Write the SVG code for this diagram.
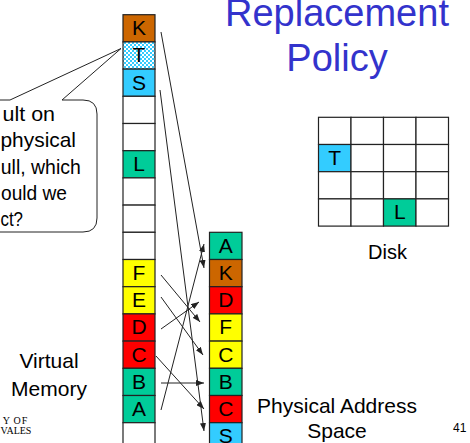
<svg xmlns="http://www.w3.org/2000/svg" width="470" height="443" viewBox="0 0 470 443">
<style>
text{font-family:"Liberation Sans",Arial,sans-serif;fill:#000}
.c{stroke:#222;stroke-width:1.2}
.lab{font-size:21px;text-anchor:middle}
.w{fill:#fff}.k{fill:#CC6600}.b{fill:#33CCFF}.g{fill:#00CC99}.y{fill:#FFFF00}.r{fill:#FF0000}
.ln{stroke:#222;stroke-width:1;fill:none;marker-end:url(#ah)}
.grid{fill:#fff;stroke:#222;stroke-width:1.2}
.bt{font-size:21px}
</style>
<defs>
<pattern id="dots" width="4" height="4" patternUnits="userSpaceOnUse">
<rect width="4" height="4" fill="#33CCFF"/>
<rect width="2" height="2" fill="#ffffff"/>
<rect x="2" y="2" width="2" height="2" fill="#ffffff"/>
</pattern>
<marker id="ah" markerWidth="8" markerHeight="6" refX="8" refY="3" orient="auto" markerUnits="userSpaceOnUse">
<path d="M0,0 L8,3 L0,6 z" fill="#222"/>
</marker>
</defs>
<rect width="470" height="443" fill="#fff"/>

<g id="title">
<text x="337" y="25.5" style="font-size:38px;text-anchor:middle;fill:#3333CC">Replacement</text>
<text x="337" y="71" style="font-size:38px;text-anchor:middle;fill:#3333CC">Policy</text>
</g>

<g id="bubble">
<path d="M-40,100 L10,100 L121,48.5 L62,100 L83,100 Q97,100 97,114 L97,218 Q97,232 83,232 L-40,232" fill="#fff" stroke="#222" stroke-width="1"/>
<text class="bt" x="2.5" y="121" textLength="52.5" lengthAdjust="spacingAndGlyphs">ult on</text>
<text class="bt" x="0.5" y="147" textLength="75.5" lengthAdjust="spacingAndGlyphs">physical</text>
<text class="bt" x="0.8" y="173.5" textLength="80" lengthAdjust="spacingAndGlyphs">ull, which</text>
<text class="bt" x="1" y="199.5" textLength="66" lengthAdjust="spacingAndGlyphs">ould we</text>
<text class="bt" x="0.5" y="226" textLength="22.5" lengthAdjust="spacingAndGlyphs">ct?</text>
</g>

<g id="virtual-memory">
<g id="v0"><rect class="c k" x="123" y="14.7" width="32" height="27.2"/><text class="lab" x="139" y="35.2">K</text></g>
<g id="v1"><rect class="c" fill="url(#dots)" x="123" y="41.9" width="32" height="27.2"/><text class="lab" x="139" y="62.4">T</text></g>
<g id="v2"><rect class="c b" x="123" y="69.1" width="32" height="27.2"/><text class="lab" x="139" y="89.6">S</text></g>
<g id="v3"><rect class="c w" x="123" y="96.3" width="32" height="27.2"/></g>
<g id="v4"><rect class="c w" x="123" y="123.5" width="32" height="27.2"/></g>
<g id="v5"><rect class="c g" x="123" y="150.7" width="32" height="27.2"/><text class="lab" x="139" y="171.2">L</text></g>
<g id="v6"><rect class="c w" x="123" y="177.9" width="32" height="27.2"/></g>
<g id="v7"><rect class="c w" x="123" y="205.1" width="32" height="27.2"/></g>
<g id="v8"><rect class="c w" x="123" y="232.3" width="32" height="27.2"/></g>
<g id="v9"><rect class="c y" x="123" y="259.5" width="32" height="27.2"/><text class="lab" x="139" y="280">F</text></g>
<g id="v10"><rect class="c y" x="123" y="286.7" width="32" height="27.2"/><text class="lab" x="139" y="307.2">E</text></g>
<g id="v11"><rect class="c r" x="123" y="313.9" width="32" height="27.2"/><text class="lab" x="139" y="334.4">D</text></g>
<g id="v12"><rect class="c r" x="123" y="341.1" width="32" height="27.2"/><text class="lab" x="139" y="361.6">C</text></g>
<g id="v13"><rect class="c g" x="123" y="368.3" width="32" height="27.2"/><text class="lab" x="139" y="388.8">B</text></g>
<g id="v14"><rect class="c g" x="123" y="395.5" width="32" height="27.2"/><text class="lab" x="139" y="416">A</text></g>
<g id="v15"><rect class="c w" x="123" y="422.7" width="32" height="27.2"/></g>
</g>

<g id="physical-memory">
<g id="p0"><rect class="c g" x="209.5" y="232.3" width="32.5" height="27.2"/><text class="lab" x="225.75" y="252.8">A</text></g>
<g id="p1"><rect class="c k" x="209.5" y="259.5" width="32.5" height="27.2"/><text class="lab" x="225.75" y="280">K</text></g>
<g id="p2"><rect class="c r" x="209.5" y="286.7" width="32.5" height="27.2"/><text class="lab" x="225.75" y="307.2">D</text></g>
<g id="p3"><rect class="c y" x="209.5" y="313.9" width="32.5" height="27.2"/><text class="lab" x="225.75" y="334.4">F</text></g>
<g id="p4"><rect class="c y" x="209.5" y="341.1" width="32.5" height="27.2"/><text class="lab" x="225.75" y="361.6">C</text></g>
<g id="p5"><rect class="c g" x="209.5" y="368.3" width="32.5" height="27.2"/><text class="lab" x="225.75" y="388.8">B</text></g>
<g id="p6"><rect class="c r" x="209.5" y="395.5" width="32.5" height="27.2"/><text class="lab" x="225.75" y="416">C</text></g>
<g id="p7"><rect class="c b" x="209.5" y="422.7" width="32.5" height="27.2"/><text class="lab" x="225.75" y="443.2">S</text></g>
</g>

<g id="disk">
<rect class="grid" x="318.5" y="117.3" width="32.5" height="27.2"/>
<rect class="grid" x="351" y="117.3" width="32.5" height="27.2"/>
<rect class="grid" x="383.5" y="117.3" width="32.5" height="27.2"/>
<rect class="grid" x="416" y="117.3" width="32.5" height="27.2"/>
<rect class="grid" x="318.5" y="144.5" width="32.5" height="27.2" style="fill:#33CCFF"/>
<rect class="grid" x="351" y="144.5" width="32.5" height="27.2"/>
<rect class="grid" x="383.5" y="144.5" width="32.5" height="27.2"/>
<rect class="grid" x="416" y="144.5" width="32.5" height="27.2"/>
<rect class="grid" x="318.5" y="171.7" width="32.5" height="27.2"/>
<rect class="grid" x="351" y="171.7" width="32.5" height="27.2"/>
<rect class="grid" x="383.5" y="171.7" width="32.5" height="27.2"/>
<rect class="grid" x="416" y="171.7" width="32.5" height="27.2"/>
<rect class="grid" x="318.5" y="198.9" width="32.5" height="27.2"/>
<rect class="grid" x="351" y="198.9" width="32.5" height="27.2"/>
<rect class="grid" x="383.5" y="198.9" width="32.5" height="27.2" style="fill:#00CC99"/>
<rect class="grid" x="416" y="198.9" width="32.5" height="27.2"/>
<text class="lab" x="334.75" y="165">T</text>
<text class="lab" x="399.75" y="219.4">L</text>
<text x="387.5" y="259" style="font-size:20px;text-anchor:middle">Disk</text>
</g>

<g id="connectors">
<line class="ln" x1="161" y1="32" x2="204" y2="268"/>
<line class="ln" x1="160" y1="90" x2="204" y2="431"/>
<line class="ln" x1="161" y1="410" x2="204" y2="244"/>
<line class="ln" x1="161" y1="275" x2="200" y2="322"/>
<line class="ln" x1="161" y1="297" x2="203" y2="355"/>
<line class="ln" x1="161" y1="329" x2="199" y2="302"/>
<line class="ln" x1="156" y1="356" x2="204" y2="409"/>
<line class="ln" x1="161" y1="383" x2="204" y2="383"/>
</g>

<g id="labels">
<text x="49" y="368" style="font-size:21px;text-anchor:middle">Virtual</text>
<text x="49" y="396" style="font-size:21px;text-anchor:middle">Memory</text>
<text x="337" y="413" style="font-size:21px;text-anchor:middle">Physical Address</text>
<text x="337" y="438" style="font-size:21px;text-anchor:middle">Space</text>
<text x="453" y="432" style="font-size:12px">41</text>
<text x="28" y="424" style="font-family:'Liberation Serif',serif;font-size:10px;text-anchor:end;letter-spacing:0.8px">Y OF</text>
<text x="0.5" y="433.5" style="font-family:'Liberation Serif',serif;font-size:10px">VALES</text>
</g>
</svg>
